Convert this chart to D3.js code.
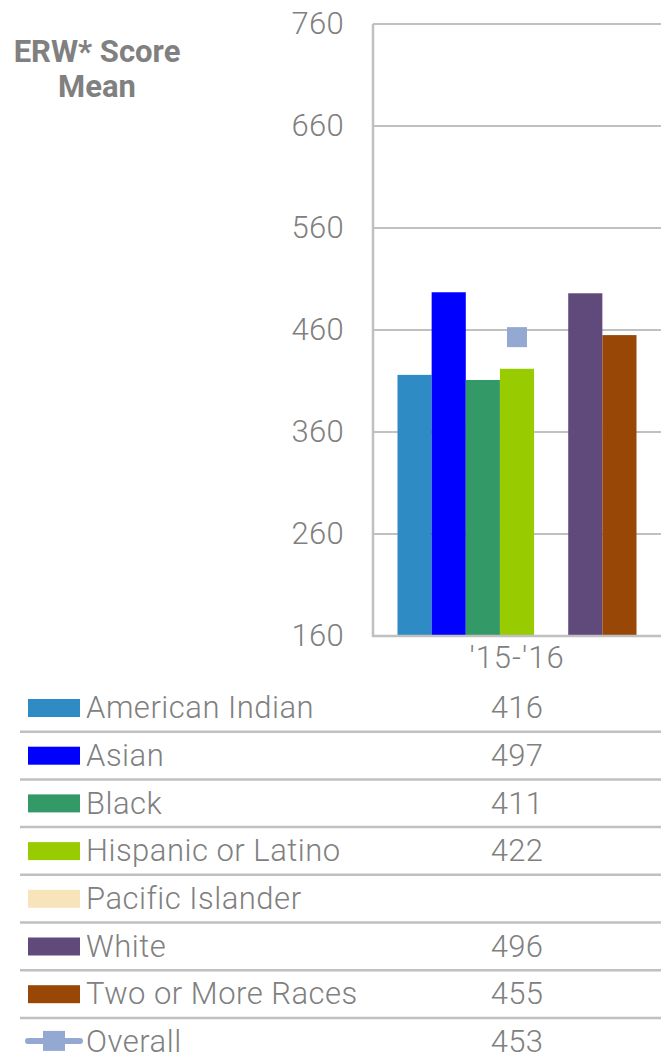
<!DOCTYPE html>
<html>
<head>
<meta charset="utf-8">
<script src="https://cdn.jsdelivr.net/npm/d3@7"></script>
<style>
  body { margin: 0; background: #fff; }
  svg text { font-family: Roboto, "Liberation Sans", sans-serif; fill: #808080; }
</style>
</head>
<body>
<div id="chart"></div>
<script>
// data
const CATEGORIES = ["'15-'16"];
const GROUPS = ["American Indian", "Asian", "Black", "Hispanic or Latino",
                "Pacific Islander", "White", "Two or More Races"];
const GROUP_VALUES = [416, 497, 411, 422, null, 496, 455];
const GROUP_COLORS = ["#2e8bc4", "#0000ff", "#339966", "#99cc00",
                      "#f8e4bb", "#604a7b", "#994706"];
const OVERALL_LABEL = "Overall";
const OVERALL_VALUES = [453];
const OVERALL_COLOR = "#93a9d1";
const Y_TICKS = [160, 260, 360, 460, 560, 660, 760];

const FRAME_WIDTH = 661;
const FRAME_HEIGHT = 1056;
const PLOT = {left: 373, right: 661, top: 24, bottom: 636};
const GRID = "#c0c0c0";

const FRAME = d3.select("#chart")
                .append("svg")
                  .attr("width", FRAME_WIDTH)
                  .attr("height", FRAME_HEIGHT);

// scales
const Y_SCALE = d3.scaleLinear()
                  .domain([160, 760])
                  .range([PLOT.bottom, PLOT.top]);

const X_SCALE = d3.scaleBand()
                  .domain(CATEGORIES)
                  .range([PLOT.left, PLOT.right])
                  .paddingInner(0)
                  .paddingOuter(0.1025);

const GROUP_SCALE = d3.scaleBand()
                      .domain(GROUPS)
                      .range([0, X_SCALE.bandwidth()])
                      .padding(0);

// gridlines
FRAME.append("g")
  .selectAll("line")
  .data(Y_TICKS.slice(1))
  .join("line")
    .attr("x1", PLOT.left)
    .attr("x2", PLOT.right)
    .attr("y1", d => Y_SCALE(d))
    .attr("y2", d => Y_SCALE(d))
    .attr("stroke", GRID)
    .attr("stroke-width", 2);

// y axis labels
const yAxis = FRAME.append("g")
  .attr("transform", "translate(" + PLOT.left + ",0)")
  .call(d3.axisLeft(Y_SCALE).tickValues(Y_TICKS).tickSize(0).tickPadding(29));
yAxis.select(".domain").remove();
yAxis.selectAll("text")
  .attr("font-size", "31px")
  .attr("font-weight", 300)
  .attr("letter-spacing", "0.3px")
  .attr("fill", "#808080");

// bars
CATEGORIES.forEach((cat, ci) => {
  const rows = GROUPS.map((g, i) => ({group: g, value: GROUP_VALUES[i], color: GROUP_COLORS[i]}))
                     .filter(d => d.value != null);
  FRAME.append("g")
    .selectAll("rect")
    .data(rows)
    .join("rect")
      .attr("x", d => X_SCALE(cat) + GROUP_SCALE(d.group))
      .attr("y", d => Y_SCALE(d.value))
      .attr("width", GROUP_SCALE.bandwidth())
      .attr("height", d => Y_SCALE(160) - Y_SCALE(d.value))
      .attr("fill", d => d.color);

  // overall marker
  FRAME.append("rect")
    .attr("x", X_SCALE(cat) + X_SCALE.bandwidth() / 2 - 10)
    .attr("y", Y_SCALE(OVERALL_VALUES[ci]) - 10)
    .attr("width", 20)
    .attr("height", 20)
    .attr("fill", OVERALL_COLOR);
});

// axis frame lines
FRAME.append("line")
  .attr("x1", PLOT.left).attr("x2", PLOT.left)
  .attr("y1", PLOT.top).attr("y2", PLOT.bottom + 1)
  .attr("stroke", GRID).attr("stroke-width", 2.5);
FRAME.append("line")
  .attr("x1", PLOT.left - 1).attr("x2", PLOT.right)
  .attr("y1", PLOT.bottom).attr("y2", PLOT.bottom)
  .attr("stroke", GRID).attr("stroke-width", 2.5);

// category label
const xAxis = FRAME.append("g")
  .attr("transform", "translate(0," + PLOT.bottom + ")")
  .call(d3.axisBottom(X_SCALE).tickSize(0).tickPadding(10));
xAxis.select(".domain").remove();
xAxis.selectAll("text")
  .attr("font-size", "31px")
  .attr("font-weight", 300)
  .attr("letter-spacing", "1px")
  .attr("fill", "#808080");

// title
FRAME.append("text")
  .attr("x", 97).attr("y", 62)
  .attr("text-anchor", "middle")
  .attr("font-size", "31px").attr("font-weight", "bold")
  .text("ERW* Score");
FRAME.append("text")
  .attr("x", 97).attr("y", 97)
  .attr("text-anchor", "middle")
  .attr("font-size", "31px").attr("font-weight", "bold")
  .text("Mean");

// data table legend
const ROW_TOP = 684;
const ROW_H = 47.7;
const legendRows = GROUPS.map((g, i) => ({label: g, value: GROUP_VALUES[i], color: GROUP_COLORS[i], overall: false}))
  .concat([{label: OVERALL_LABEL, value: OVERALL_VALUES[0], color: OVERALL_COLOR, overall: true}]);

const rowG = FRAME.append("g")
  .selectAll("g")
  .data(legendRows)
  .join("g")
    .attr("transform", (d, i) => "translate(0," + (ROW_TOP + i * ROW_H) + ")");

rowG.filter((d, i) => i < legendRows.length - 1)
  .append("line")
    .attr("x1", 20).attr("x2", FRAME_WIDTH)
    .attr("y1", ROW_H).attr("y2", ROW_H)
    .attr("stroke", GRID).attr("stroke-width", 2.5);

rowG.filter(d => !d.overall)
  .append("rect")
    .attr("x", 28).attr("y", 15)
    .attr("width", 52).attr("height", 18)
    .attr("fill", d => d.color);

const ov = rowG.filter(d => d.overall);
ov.append("line")
  .attr("x1", 28).attr("x2", 80)
  .attr("y1", 23).attr("y2", 23)
  .attr("stroke", OVERALL_COLOR).attr("stroke-width", 6)
  .attr("stroke-linecap", "round");
ov.append("rect")
  .attr("x", 43).attr("y", 13)
  .attr("width", 22).attr("height", 20)
  .attr("fill", OVERALL_COLOR);

rowG.append("text")
  .attr("x", 86).attr("y", 23)
  .attr("dy", "0.36em")
  .attr("font-size", "31px").attr("font-weight", 300)
  .attr("letter-spacing", "0.5px")
  .text(d => d.label);

rowG.append("text")
  .attr("x", X_SCALE(CATEGORIES[0]) + X_SCALE.bandwidth() / 2)
  .attr("y", 23)
  .attr("dy", "0.36em")
  .attr("text-anchor", "middle")
  .attr("font-size", "31px").attr("font-weight", 300)
  .attr("letter-spacing", "0.3px")
  .text(d => d.value == null ? "" : d.value);
</script>
</body>
</html>
